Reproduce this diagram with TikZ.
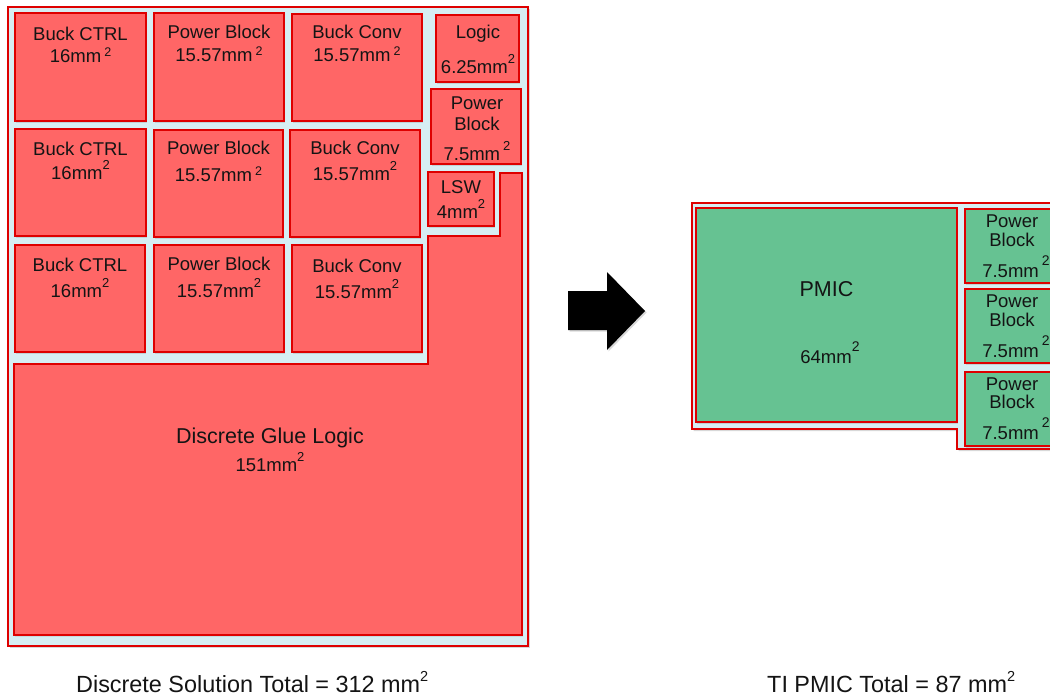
\documentclass[tikz,border=0pt]{standalone}
\usepackage{fontspec}
\setmainfont{Liberation Sans}
\usetikzlibrary{shadows}
\definecolor{blkred}{RGB}{255,102,102}
\definecolor{edgered}{RGB}{222,0,0}
\definecolor{pale}{RGB}{214,238,243}
\definecolor{blkgreen}{RGB}{102,194,146}
\definecolor{ink}{RGB}{20,20,20}
\newcommand\sqlo{\raisebox{6pt}{\fontsize{12.5}{12.5}\selectfont 2}}
\newcommand\sqhi{\raisebox{10pt}{\fontsize{13}{13}\selectfont 2}}
\newcommand\sqbig{\raisebox{12pt}{\fontsize{14}{14}\selectfont 2}}
\newcommand\sqcapt{\raisebox{11pt}{\fontsize{14.5}{14.5}\selectfont 2}}
\tikzset{
  frame/.style={draw=edgered, line width=1.8pt, fill=pale,
    drop shadow={opacity=0.3, shadow xshift=1.5pt, shadow yshift=-2pt}},
  redblk/.style={draw=edgered, line width=1.6pt, fill=blkred,
    drop shadow={opacity=0.25, shadow xshift=1pt, shadow yshift=-1.5pt}},
  greenblk/.style={draw=edgered, line width=1.6pt, fill=blkgreen,
    drop shadow={opacity=0.25, shadow xshift=1pt, shadow yshift=-1.5pt}},
  lbl/.style={anchor=base, inner sep=0pt, text=ink, font=\fontsize{18.5}{22}\selectfont},
  biglbl/.style={lbl, font=\fontsize{21.5}{25}\selectfont},
  caption/.style={anchor=base west, inner sep=0pt, text depth=0pt, text=ink, font=\fontsize{23.4}{27}\selectfont},
}
\begin{document}
\begin{tikzpicture}[x=1pt,y=-1pt]
\clip (0,0) rectangle (1050,696);
\fill[white] (0,0) rectangle (1050,696);

% ---------- left assembly ----------
\path[frame] (8,7) rectangle (528,646);

% row 1
\path[redblk] (15,13) rectangle (146,121);
\path[redblk] (154,13) rectangle (284,121);
\path[redblk] (292,14) rectangle (422,121);
% row 2
\path[redblk] (15,129) rectangle (146,236);
\path[redblk] (154,130) rectangle (283,237);
\path[redblk] (290,130) rectangle (420,237);
% row 3
\path[redblk] (15,245) rectangle (145,352);
\path[redblk] (154,245) rectangle (284,352);
\path[redblk] (292,245) rectangle (422,352);
% right column
\path[redblk] (436,15) rectangle (519,82);
\path[redblk] (431,89) rectangle (521,164);
\path[redblk] (428,172) rectangle (494,226);
% glue logic L-shape
\path[redblk] (500,173) -- (522,173) -- (522,635) -- (14,635) -- (14,364)
   -- (428,364) -- (428,236) -- (500,236) -- cycle;

% texts
\node[lbl] (bc1a) at (80.5,40) {Buck CTRL};
\node[lbl] (bc1b) at (80.5,62) {16mm\,\sqlo};
\node[lbl] (pb1a) at (219,38) {Power Block};
\node[lbl] (pb1b) at (219,61) {15.57mm\,\sqlo};
\node[lbl] (cv1a) at (357,38) {Buck Conv};
\node[lbl] (cv1b) at (357,61) {15.57mm\,\sqlo};

\node[lbl] (bc2a) at (80.5,155) {Buck CTRL};
\node[lbl] (bc2b) at (80.5,179) {16mm\sqhi};
\node[lbl] (pb2a) at (218.5,154) {Power Block};
\node[lbl] (pb2b) at (218.5,181) {15.57mm\,\sqlo};
\node[lbl] (cv2a) at (355,154) {Buck Conv};
\node[lbl] (cv2b) at (355,180) {15.57mm\sqhi};

\node[lbl] (bc3a) at (80,271) {Buck CTRL};
\node[lbl] (bc3b) at (80,297) {16mm\sqhi};
\node[lbl] (pb3a) at (219,270) {Power Block};
\node[lbl] (pb3b) at (219,297) {15.57mm\sqhi};
\node[lbl] (cv3a) at (357,272) {Buck Conv};
\node[lbl] (cv3b) at (357,298) {15.57mm\sqhi};

\node[lbl] (lga) at (478,38) {Logic};
\node[lbl] (lgb) at (478,73) {6.25mm\sqhi};
\node[lbl] (psa) at (477,109) {Power};
\node[lbl] (psb) at (477,130) {Block};
\node[lbl] (psc) at (477,160) {7.5mm\,\sqhi};
\node[lbl] (lswa) at (461,193) {LSW};
\node[lbl] (lswb) at (461,218) {4mm\sqhi};

\node[biglbl] (gla) at (270,443) {Discrete Glue Logic};
\node[lbl] (glb) at (270,471) {151mm\sqhi};

% ---------- arrow ----------
\fill[black, drop shadow={opacity=0.3, shadow xshift=1.5pt, shadow yshift=-1.5pt}]
  (568,291) -- (607,291) -- (607,272) -- (645,311) -- (607,350) -- (607,330) -- (568,330) -- cycle;

% ---------- right assembly ----------
\path[frame] (692,203) -- (1062,203) -- (1062,449) -- (957,449) -- (957,429) -- (692,429) -- cycle;
\path[greenblk] (696,208) rectangle (957,422);
\path[greenblk] (965,209) rectangle (1060,283);
\path[greenblk] (965,289) rectangle (1060,363);
\path[greenblk] (965,372) rectangle (1060,446);

\node[biglbl] (pm1) at (826.5,296) {PMIC};
\node[lbl] (pm2) at (830,363) {64mm\sqbig};

\node[lbl] (r1a) at (1012,227) {Power};
\node[lbl] (r1b) at (1012,246) {Block};
\node[lbl] (r1c) at (1016,277) {7.5mm\,\sqbig};
\node[lbl] (r2a) at (1012,307) {Power};
\node[lbl] (r2b) at (1012,326) {Block};
\node[lbl] (r2c) at (1016,357) {7.5mm\,\sqbig};
\node[lbl] (r3a) at (1012,390) {Power};
\node[lbl] (r3b) at (1012,408) {Block};
\node[lbl] (r3c) at (1016,439) {7.5mm\,\sqbig};

% ---------- captions ----------
\node[caption] (capl) at (76,692) {Discrete Solution Total = 312 mm\sqcapt};
\node[caption] (capr) at (767,692) {TI PMIC Total = 87 mm\sqcapt};
\end{tikzpicture}
\end{document}
